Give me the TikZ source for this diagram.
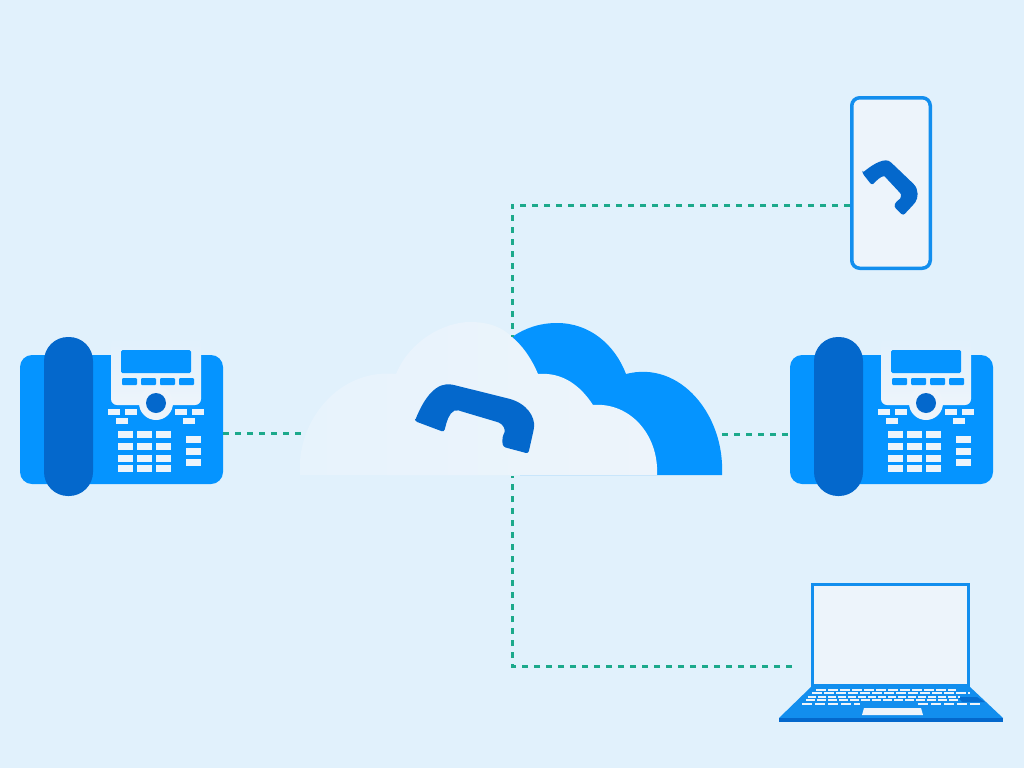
\documentclass[tikz,border=0pt]{standalone}
\definecolor{couleurfond}{HTML}{E1F1FC}
\definecolor{couleurclair}{HTML}{EDF4FB}
\definecolor{couleurnuag}{HTML}{E7F3FC}
\definecolor{couleurbleu}{HTML}{0594FF}
\definecolor{couleurfonc}{HTML}{0468CC}
\definecolor{couleurport}{HTML}{128EEE}
\definecolor{couleurlien}{HTML}{1CA98B}
\newcommand{\combine}[1]{\fill[couleurfonc,rounded corners=2.5pt,#1] (-59,18) -- (-28,21) -- (-28,14) .. controls (-28,5) and (-26,-4) .. (-17,-3.5) -- (20,-2.5) .. controls (27,-2) and (31,3) .. (30,8) .. controls (30,12) and (31,16) .. (33,20) -- (59,20) -- (58,-5) .. controls (56,-17) and (45,-28) .. (24,-28) -- (-30,-27) .. controls (-48,-26) and (-56,-8) .. (-59,18) -- cycle;}
\newcommand{\lienhorz}[2]{\draw[lien] (#1) -- (#2);}
\newcommand{\lienpli}[2]{\draw[lien] (#1) -| (#2);}
\newcommand{\touches}[1]{\foreach \xt/\yt in {#1} {\fill[touche] (\xt,\yt) rectangle ++(15,7);}}
\newcommand{\telephone}[2]{
	\begin{scope}[shift={#2}]
		\node[corps] (#1) at (121.5,419.5) {};
		% ecran
		\path[top color=couleurfond, bottom color=couleurclair, rounded corners=6pt] (111,338) rectangle (201,405);
		\fill[couleurclair] (156,403) circle (17);
		\fill[couleurbleu,rounded corners=1.5pt] (121,350) rectangle (191,373);
		\foreach \xt in {122,141,160,179} {\fill[couleurbleu,rounded corners=1pt] (\xt,378) rectangle ++(15,7);}
		\fill[couleurfonc] (156,403) circle (10);
		% touches
		\foreach \xt/\yt in {108/409,125/409,116/418,175/409,192/409,183/418} {\fill[touche] (\xt,\yt) rectangle ++(12,6);}
		\touches{118/431,137/431,156/431,118/443,137/443,156/443,118/455,137/455,156/455,118/465,137/465,156/465,186/436,186/448,186/459}
		\node[combine] (#1-comb) at (68.5,416.5) {};
	\end{scope}
}
\tikzset{
	x=1pt, y=-1pt,
	corps/.style={fill=couleurbleu, rounded corners=12pt, minimum width=203pt, minimum height=129pt, inner sep=0pt},
	combine/.style={fill=couleurfonc, rounded corners=24pt, minimum width=49pt, minimum height=159pt, inner sep=0pt},
	touche/.style={fill=couleurclair},
	lien/.style={couleurlien, line width=3pt, dash pattern=on 6pt off 6pt},
	mobile/.style={draw=couleurport, line width=3.5pt, fill=couleurclair, rounded corners=8pt, minimum width=78.5pt, minimum height=170.5pt, inner sep=0pt},
	ecran/.style={draw=couleurport, line width=3pt, fill=couleurclair, minimum width=156pt, minimum height=101pt, inner sep=0pt},
	clavier/.style={couleurclair, line width=2pt}
}
\begin{document}
\begin{tikzpicture}
	\useasboundingbox (0,0) rectangle (1024,768);
	\fill[couleurfond] (0,0) rectangle (1024,768);
	% nuage
	\fill[couleurbleu] (512,337) .. controls (525,328) and (540,323) .. (557,323) .. controls (590,323) and (615,345) .. (626,374) .. controls (680,360) and (725,415) .. (722,475) -- (520,475) -- cycle;
	\path[left color=couleurnuag, right color=couleurclair] (300,475) .. controls (296,420) and (340,368) .. (396,374) .. controls (410,340) and (445,322) .. (470,322) .. controls (490,322) and (503,328) .. (512,337) .. controls (525,348) and (533,362) .. (538,374) .. controls (562,372) and (580,385) .. (593,405) .. controls (630,402) and (659,435) .. (657,475) -- cycle;
	\combine{shift={(476.5,419)},rotate=-15}
	\coordinate (nuagegau) at (305,433);
	\coordinate (nuagedro) at (722,434);
	\coordinate (nuagehau) at (512,337);
	\coordinate (nuagebas) at (512,476);
	% telephones
	\telephone{telgauch}{(0,0)}
	\telephone{teldroit}{(770,0)}
	\coordinate (portgauc) at (223,433);
	\coordinate (portdroi) at (790,434);
	% mobile
	\node[mobile] (mobile) at (891,183) {};
	\combine{shift={(891,186)},rotate=-45,xscale=0.5,yscale=0.62}
	\coordinate (portmobi) at (mobile.west |- 0,205);
	% portable
	\node[ecran] (portable) at (890.5,635) {};
	\fill[couleurport] (812,686) -- (969,686) -- (1003,718) -- (779,718) -- cycle;
	\fill[couleurfonc] (779,718) -- (1003,718) -- (1003,722) -- (779,722) -- cycle;
	\fill[couleurfonc!85!couleurport] (958,697) -- (977,697) -- (985,702) -- (962,702) -- cycle;
	\draw[clavier, dash pattern=on 10pt off 2pt] (816,689.5) -- (956,689.5);
	\draw[clavier, dash pattern=on 10pt off 2pt] (812,693) -- (970,693);
	\draw[clavier, dash pattern=on 8pt off 2pt] (808,696.5) -- (960,696.5);
	\draw[clavier, dash pattern=on 9pt off 2pt] (806,700) -- (958,700);
	\draw[clavier, dash pattern=on 10pt off 3pt] (802,703.5) -- (860,703.5);
	\draw[clavier, dash pattern=on 10pt off 3pt] (918,703.5) -- (982,703.5);
	\fill[couleurclair] (864,708) -- (921,708) -- (923,715) -- (862,715) -- cycle;
	\coordinate (portport) at (792,666);
	% Liens
	\lienhorz{portgauc}{nuagegau}
	\lienhorz{nuagedro}{portdroi}
	\lienpli{portmobi}{nuagehau}
	\lienpli{portport}{nuagebas}
\end{tikzpicture}
\end{document}
